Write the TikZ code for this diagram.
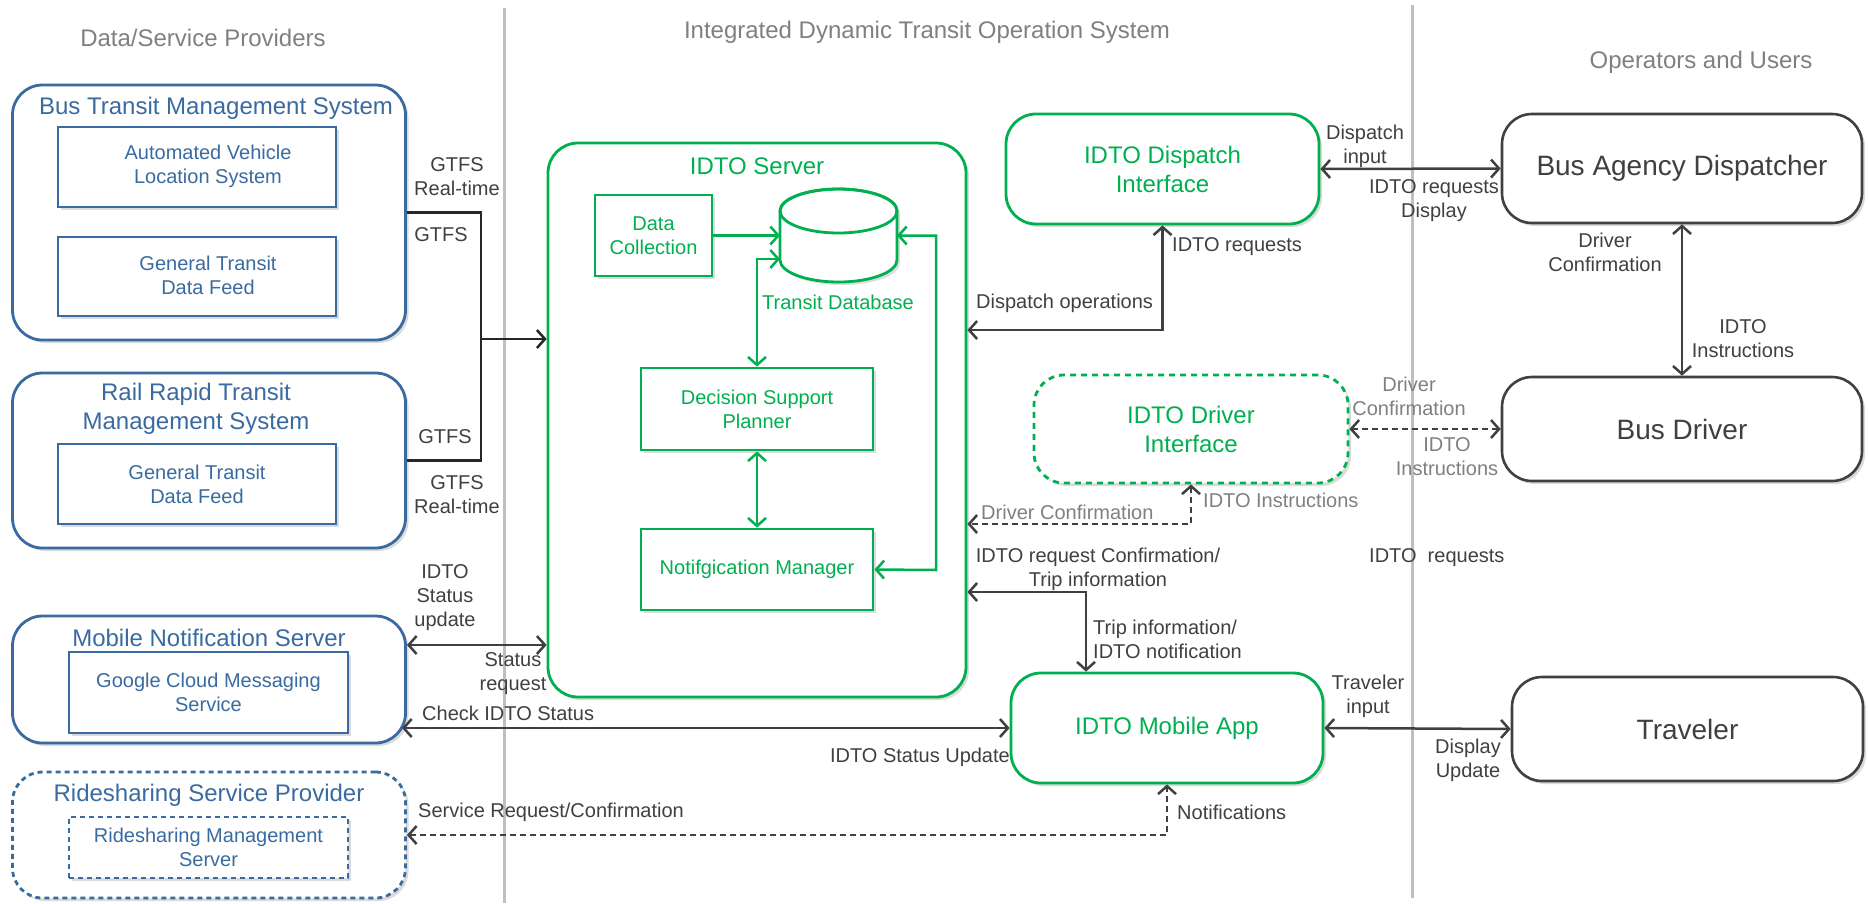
\documentclass[tikz,border=0pt]{standalone}
\usepackage{fontspec}
\setmainfont{Liberation Sans}
\usetikzlibrary{arrows.meta,shadows,calc}
\definecolor{cblue}{RGB}{58,107,160}
\definecolor{cgreen}{RGB}{0,176,80}
\definecolor{cdark}{RGB}{64,64,64}
\definecolor{clight}{RGB}{128,128,128}
\definecolor{csep}{RGB}{191,191,191}
\tikzset{
  shd/.style={drop shadow={shadow xshift=3pt,shadow yshift=-3pt,opacity=0.14,fill=black}},
  sepline/.style={draw=csep,line width=3pt},
  head/.style={font=\fontsize{24}{29}\selectfont,text=clight,inner sep=0pt},
  lbl/.style={font=\fontsize{20}{24}\selectfont,text=cdark,align=center,inner sep=0pt},
  obox/.style={draw=cblue,line width=2.8pt,rounded corners=30pt,fill=white,shd,inner sep=0pt,minimum width=393pt},
  otitle/.style={font=\fontsize{24}{29}\selectfont,text=cblue,align=center,inner sep=0pt},
  ibox/.style={draw=cblue,line width=2.8pt,fill=white,shd,inner sep=0pt,font=\fontsize{20}{24}\selectfont,text=cblue,align=center},
  itext/.style={font=\fontsize{20}{24}\selectfont,text=cblue,align=center,inner sep=0pt},
  bdash/.style={dash pattern=on 5pt off 4pt},
  gbox/.style={draw=cgreen,line width=2.8pt,rounded corners=30pt,fill=white,shd,inner sep=0pt,font=\fontsize{24}{29}\selectfont,text=cgreen,align=center},
  gibox/.style={draw=cgreen,line width=2.8pt,fill=white,shd,inner sep=0pt,font=\fontsize{20}{24}\selectfont,text=cgreen,align=center},
  gtext/.style={font=\fontsize{20}{24}\selectfont,text=cgreen,inner sep=0pt},
  gdash/.style={dash pattern=on 6pt off 5pt},
  kbox/.style={draw=cdark,line width=2.6pt,rounded corners=30pt,fill=white,shd,inner sep=0pt,font=\fontsize{28}{34}\selectfont,text=cdark},
  conn/.style={draw=cdark,line width=2.5pt},
  dconn/.style={conn,dash pattern=on 6pt off 4pt},
  gconn/.style={draw=cgreen,line width=2.5pt},
}
\begin{document}
\begin{tikzpicture}[x=1pt,y=-1pt,>={Straight Barb[length=8pt,width=18pt]}]
\useasboundingbox (0,0) rectangle (1868,903);
\fill[white] (0,0) rectangle (1868,903);

% separators
\draw[sepline] (504,8) -- (504,903);
\draw[sepline] (1412,5) -- (1412,898);

% headings
\node[head] (hL) at (203,38) {Data/Service Providers};
\node[head] (hM) at (927,32) {Integrated Dynamic Transit Operation System};
\node[head] (hR) at (1701,62) {Operators and Users};

% left column
\node[obox,minimum height=255pt] (bts) at (209,212.5) {};
\node[otitle] (btsT) at (216,108) {Bus Transit Management System};
\node[ibox,minimum width=278pt,minimum height=80pt] (avl) at (197,167) {};
\node[itext] (avlT) at (208,166) {Automated Vehicle\\Location System};
\node[ibox,minimum width=278pt,minimum height=79pt] (gtdfA) at (197,276.5) {};
\node[itext] (gtdfAT) at (208,275) {General Transit\\Data Feed};

\node[obox,minimum height=175pt] (rail) at (209,460.5) {};
\node[otitle] (railT) at (196,408.5) {Rail Rapid Transit\\Management System};
\node[ibox,minimum width=278pt,minimum height=80pt] (gtdfB) at (197,484) {General Transit\\Data Feed};

\node[obox,minimum height=127pt] (mns) at (209,679.5) {};
\node[otitle] (mnsT) at (209,638) {Mobile Notification Server};
\node[ibox,minimum width=279pt,minimum height=81pt] (gcm) at (208.5,692.5) {Google Cloud Messaging\\Service};

\node[obox,bdash,minimum height=126pt] (rsp) at (209,835) {};
\node[otitle] (rspT) at (209,795) {Ridesharing Service Provider};
\node[ibox,bdash,minimum width=279pt,minimum height=61pt] (rms) at (208.5,847.5) {Ridesharing Management\\Server};

% IDTO server
\node[gbox,minimum width=418pt,minimum height=554pt] (srv) at (757,420) {};
\node[font=\fontsize{24}{29}\selectfont,text=cgreen,inner sep=0pt] (srvT) at (757,166) {IDTO Server};
\node[gibox,minimum width=117pt,minimum height=81pt] (dc) at (653.5,235.5) {Data\\Collection};
\node[inner sep=0pt,outer sep=0pt,minimum width=117pt,minimum height=93pt] (db) at (838.5,235.5) {};
\path[draw=cgreen,line width=2.8pt,fill=white,shd] (780,211) -- (780,260)
  arc[start angle=180,end angle=0,x radius=58.5,y radius=22] -- (897,211)
  arc[start angle=0,end angle=-180,x radius=58.5,y radius=22] -- cycle;
\draw[draw=cgreen,line width=2.8pt] (838.5,211) ellipse[x radius=58.5,y radius=22];
\node[gtext] (dbT) at (838,302) {Transit Database};
\node[gibox,minimum width=232pt,minimum height=82pt] (dsp) at (757,409) {Decision Support\\Planner};
\node[gibox,minimum width=232pt,minimum height=81pt] (nm) at (757,569.5) {Notifgication Manager};

% interfaces
\node[gbox,minimum width=313pt,minimum height=110pt] (di) at (1162.5,169) {IDTO Dispatch\\Interface};
\node[gbox,gdash,minimum width=314pt,minimum height=108pt] (dri) at (1191,429) {IDTO Driver\\Interface};
\node[gbox,minimum width=312pt,minimum height=110pt] (app) at (1167,728) {IDTO Mobile App};

% operators and users
\node[kbox,minimum width=360pt,minimum height=109pt] (bad) at (1682,168.5) {Bus Agency Dispatcher};
\node[kbox,minimum width=360pt,minimum height=104pt] (bd) at (1682,429) {Bus Driver};
\node[kbox,minimum width=351pt,minimum height=104pt] (trv) at (1687.5,729) {Traveler};

% helper coordinates
\coordinate (jn) at (481,339);
\coordinate (lp) at (936,570);
\coordinate (chk) at (402,728);

% connectors
\draw[conn,draw=black!85] (bts.east) -| (jn) |- (rail.east);
\draw[conn,draw=black!85,->] (jn) -- (srv.west |- jn);
\draw[conn,<->] (mns.east |- 0,645) -- (srv.west |- 0,645);
\draw[conn,<->] (chk) -- (app.west);
\draw[dconn,<->] (rsp.east) -| (app.south);
\draw[conn,<->] (srv.east |- 0,330) -| (di.south);
\draw[conn,<->] (di.east) -- (bad.west);
\draw[conn,<->] (bad.south) -- (bd.north);
\draw[dconn,<->] (dri.east) -- (bd.west);
\draw[dconn,<->] (dri.south) |- (srv.east |- 0,524);
\draw[conn,<->] (srv.east |- 0,592) -| (app.north -| 1086,0);
\draw[conn,<->] (app.east) -- (trv.west);

\draw[gconn,->] (dc.east) -- (db.west);
\draw[gconn,<->] (dsp.north) |- (db.west |- 0,259);
\draw[gconn,<->] (db.east) -| (lp) -- (nm.east);
\draw[gconn,<->] (dsp.south) -- (nm.north);

% labels
\node[lbl] (lGa) at (457,177) {GTFS\\Real-time};
\node[lbl] (lGb) at (441,235) {GTFS};
\node[lbl] (lGc) at (445,437) {GTFS};
\node[lbl] (lGd) at (457,494.5) {GTFS\\Real-time};
\node[lbl] (lSu) at (445,598) {IDTO\\Status\\update};
\node[lbl] (lSr) at (513,673.5) {Status\\request};
\node[lbl,anchor=west] (lCk) at (422,713) {Check IDTO Status};
\node[lbl,anchor=west] (lSv) at (418,812) {Service Request/Confirmation};
\node[lbl,anchor=east] (lSU) at (1010,757) {IDTO Status Update};
\node[lbl,anchor=west] (lNo) at (1177,812) {Notifications};
\node[lbl,anchor=west] (lDo) at (976,303) {Dispatch operations};
\node[lbl,anchor=west] (lIr) at (1172,247) {IDTO requests};
\node[lbl] (lDi) at (1365,146) {Dispatch\\input};
\node[lbl] (lIrd) at (1434,200.5) {IDTO requests\\Display};
\node[lbl] (lDc) at (1605,252) {Driver\\Confirmation};
\node[lbl] (lIi) at (1743,339) {IDTO\\Instructions};
\node[lbl,text=clight] (lDc2) at (1409,396.5) {Driver\\Confirmation};
\node[lbl,text=clight] (lIi2) at (1447,456.5) {IDTO\\Instructions};
\node[lbl,text=clight,anchor=west] (lIi3) at (1203,500) {IDTO Instructions};
\node[lbl,text=clight,anchor=west] (lDc3) at (981,512) {Driver Confirmation};
\node[lbl] (lRc) at (1098,569.5) {IDTO request Confirmation/\\Trip information};
\node[lbl,align=left,anchor=west] (lTi) at (1093,639) {Trip information/\\IDTO notification};
\node[lbl,anchor=west] (lIr2) at (1369,558) {IDTO\ \ requests};
\node[lbl] (lTr) at (1368,696.5) {Traveler\\input};
\node[lbl] (lDu) at (1468,760) {Display\\Update};
\end{tikzpicture}
\end{document}
